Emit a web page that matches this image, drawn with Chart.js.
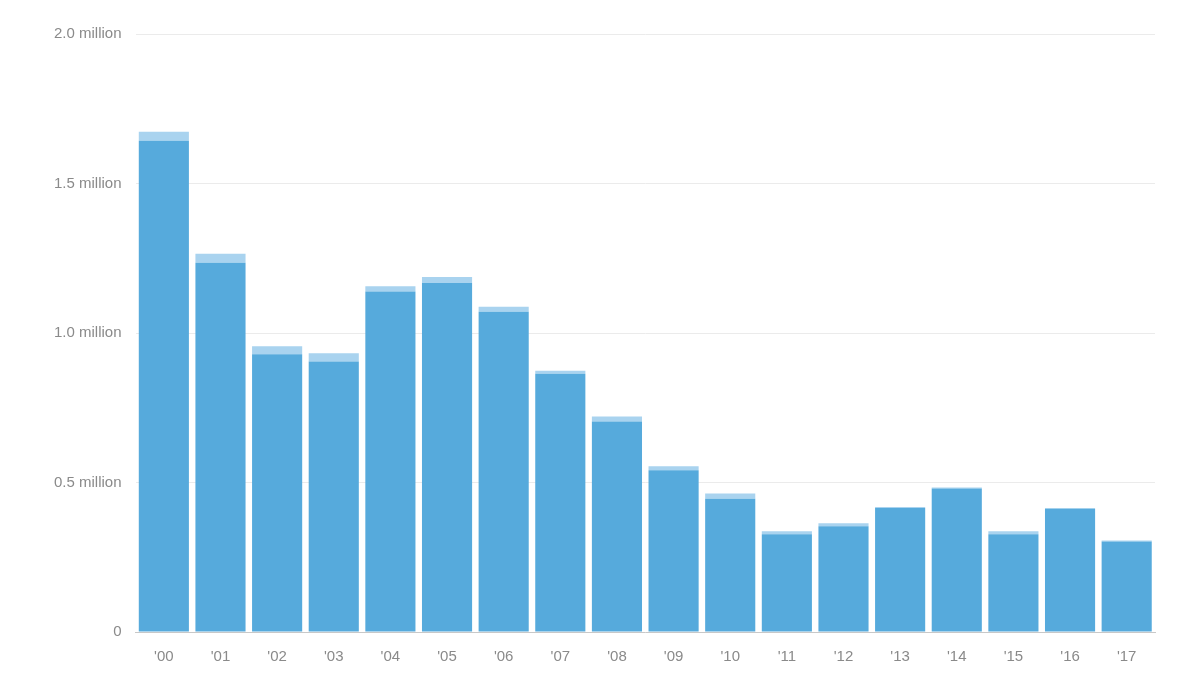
<!DOCTYPE html>
<html>
<head>
<meta charset="utf-8">
<script src="https://cdn.jsdelivr.net/npm/chart.js@4"></script>
<style>
  html, body { margin: 0; padding: 0; background: #fff; }
  #wrap { position: absolute; left: 0; top: 0; width: 1200px; height: 686px; }
</style>
</head>
<body>
<div id="wrap"><canvas id="chart"></canvas></div>
<script>
const years = ["'00", "'01", "'02", "'03", "'04", "'05", "'06", "'07", "'08", "'09",
               "'10", "'11", "'12", "'13", "'14", "'15", "'16", "'17"];
// main (dark) portion, millions
const baseValues = [1.643, 1.235, 0.929, 0.905, 1.139, 1.167, 1.071, 0.864, 0.704, 0.541,
                    0.446, 0.327, 0.354, 0.415, 0.480, 0.327, 0.412, 0.303];
// light cap on top, millions
const extraValues = [0.030, 0.030, 0.027, 0.027, 0.017, 0.020, 0.017, 0.010, 0.017, 0.013,
                     0.017, 0.010, 0.010, 0.003, 0.003, 0.010, 0.003, 0.003];
const yTicks = [0, 0.5, 1.0, 1.5, 2.0];

const tickFont = { family: 'Helvetica, Arial, "Liberation Sans", sans-serif', size: 15 };

new Chart(document.getElementById('chart'), {
    type: 'bar',
    data: {
        labels: years,
        datasets: [
            { data: baseValues, backgroundColor: '#56aadc', barPercentage: 0.885, categoryPercentage: 1 },
            { data: extraValues, backgroundColor: '#a9d3ef', barPercentage: 0.885, categoryPercentage: 1 },
        ],
    },
    options: {
        responsive: true,
        maintainAspectRatio: false,
        animation: false,
        layout: { padding: { left: 40, right: 45, top: 34, bottom: 12 } },
        plugins: { legend: { display: false }, tooltip: { enabled: false } },
        scales: {
            x: {
                stacked: true,
                grid: { display: false, drawTicks: true },
                border: { color: '#c8c8c8' },
                ticks: { color: '#8a8a8a', font: tickFont, padding: 8 },
            },
            y: {
                stacked: true,
                min: 0,
                max: 2.0,
                afterBuildTicks: (axis) => { axis.ticks = yTicks.map((v) => ({ value: v })); },
                grid: { color: '#ebebeb', drawTicks: false },
                border: { display: false },
                ticks: {
                    color: '#8a8a8a',
                    font: tickFont,
                    padding: 14,
                    callback: (v) => (v === 0 ? '0' : v.toFixed(1) + ' million'),
                },
            },
        },
    },
});
</script>
</body>
</html>
